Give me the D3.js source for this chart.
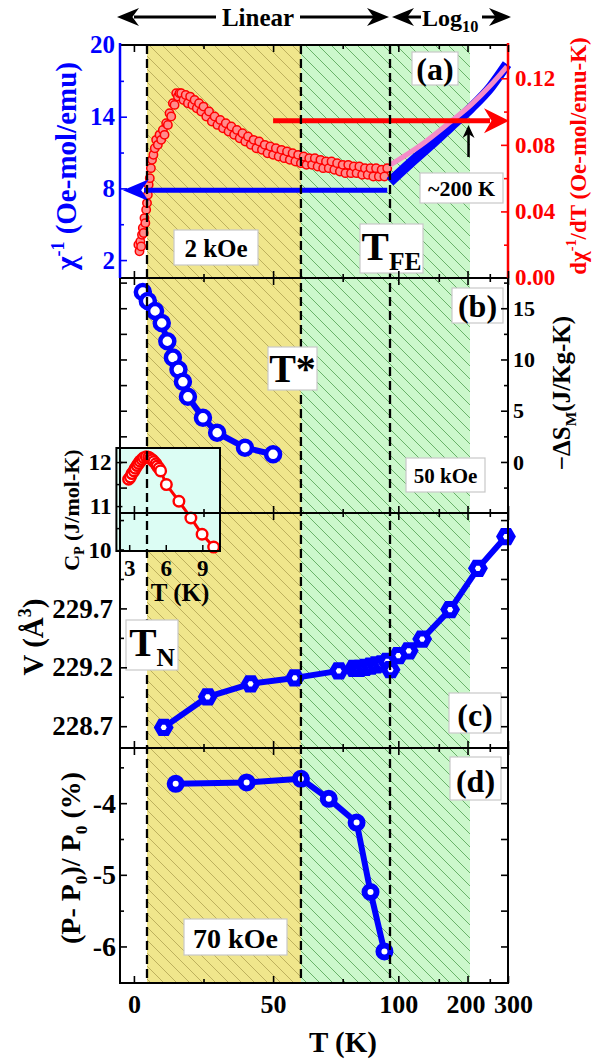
<!DOCTYPE html>
<html><head><meta charset="utf-8">
<script src="https://cdn.jsdelivr.net/npm/d3@7"></script>
<style>body{margin:0;background:#fff}svg text{font-family:"Liberation Serif","Times New Roman",serif;font-weight:bold}</style>
</head><body><svg id="c" width="610" height="1061"></svg>
<script>
// ---------- data ----------
const TN = 4.7, Tstar = 60, TFE = 92, Tend = 205;
// panel (a) dχ^-1/dT (right axis)
const chiDT = [1.6,2.0,2.3,2.6,2.9,3.2,3.5,3.8,4.1,4.4,4.7,5.0,5.3,5.7,6.1,6.5,7.0,7.5,8.0,8.6,9.2,9.8,10.4,11.0,11.6,12.2,12.8,13.4,14.0,14.6,15.2,15.8,16.4,17.0,17.8,18.6,19.4,20.2,21.0,21.8,22.6,23.4,24.2,25,26,27,28,29,30,31,32,33,34,35,36,37,38,39,40,41,42,43,44,45,46,47,48,49,50,51,52,53,54,55,56,57,58,59,60,61,62,63,64,65,66,67,68,69,70,71,72,73,74,75,76,77,78,79,80,81,82,83,84,85,86,87,88,89,90,91];
const chiDV = [0.020,0.016,0.022,0.019,0.026,0.030,0.027,0.036,0.033,0.041,0.045,0.050,0.056,0.060,0.066,0.071,0.074,0.078,0.083,0.080,0.086,0.083,0.089,0.086,0.093,0.092,0.099,0.097,0.105,0.104,0.111,0.109,0.111,
  0.111,0.107,0.110,0.105,0.109,0.104,0.107,0.102,0.105,0.100,0.103,0.097,0.100,0.094,0.097,0.092,0.095,0.090,0.093,0.088,0.091,0.086,0.089,0.084,0.087,0.082,0.085,0.080,0.083,0.078,0.082,0.077,0.080,0.075,0.079,0.074,0.078,0.073,0.077,0.072,0.076,0.071,0.075,0.070,0.074,0.069,0.073,0.068,0.072,0.068,0.072,0.067,0.071,0.066,0.070,0.066,0.070,0.065,0.069,0.064,0.068,0.063,0.068,0.063,0.067,0.063,0.067,0.062,0.066,0.062,0.066,0.061,0.066,0.061,0.065,0.061,0.066];
// panel (a) χ^-1 (left axis) and its fit
const chiInvT = [92,112.6,137.8,168.7,206.4,252.6,297];
const chiInvV = [8.55,10.1,11.6,13.16,14.7,16.5,18.4];
const chiFitT = [92,124.9,168.7,206.4,252.6,297];
const chiFitV = [9.95,11.6,13.58,14.97,16.65,18.2];
// panel (b) −ΔS_M
const dsT = [3.2,5,7.6,10,12,14,16,17.6,19.4,24.8,29.9,39.9,50];
const dsV = [16.58,15.7,14.73,13.56,11.78,10.19,9.02,7.82,6.36,4.31,2.85,1.39,0.75];
// panel (c) V
const volT = [10.7,26.5,41.9,57.8,73.6,79,81,83,85,87,89,91,92.5,100,111,127,168,222,294];
const volV = [228.69,228.95,229.06,229.11,229.17,229.19,229.19,229.2,229.21,229.22,229.23,229.25,229.18,229.3,229.34,229.44,229.69,230.04,230.31];
// panel (d) (P-P0)/P0
const polT = [15,40.5,60,70,80,85,90];
const polV = [-3.73,-3.71,-3.66,-3.94,-4.27,-5.24,-6.07];
// inset Cp
const cpT = [2.95,3.1,3.23,3.4,3.5,3.65,3.78,3.9,4.06,4.2,4.4,4.6,4.75,4.9,5.03,5.2,5.3,5.45,5.58,6.05,7.08,8.06,8.98,9.93];
const cpV = [11.61,11.66,11.74,11.8,11.86,11.92,11.97,12.02,12.06,12.1,12.12,12.11,12.08,12.05,12.01,11.96,11.91,11.86,11.8,11.49,11.11,10.73,10.36,10.07];
// ticks
const xLinTicks = [0,25,50,75], xLogTicks = [100,150,200,250,300], xLabels = [0,50,100,200,300];

// ---------- layout ----------
const L = 120, R = 508;
const PA = [45,278], PB = [278,513], PC = [513,748], PD = [748,983];
const BLUE = "#0000ff", RED = "#ff0000";
const FONT = '"Liberation Serif","Times New Roman",serif';

const xLin = d3.scaleLinear().domain([-5, TFE]).range([L, 390]);
const xLog = d3.scaleLog().domain([TFE, 300]).range([390, R]);
const x = t => t <= TFE ? xLin(t) : xLog(t);
const yA1 = d3.scaleLinear().domain([0.5, 20]).range(PA.slice().reverse());
const yA2 = d3.scaleLinear().domain([0, 0.14]).range(PA.slice().reverse());
const yB = d3.scaleLinear().domain([-4.98, 17.95]).range(PB.slice().reverse());
const yC = d3.scaleLinear().domain([228.515, 230.51]).range(PC.slice().reverse());
const yD = d3.scaleLinear().domain([-6.51, -3.23]).range(PD.slice().reverse());
const xI = d3.scaleLinear().domain([1.95, 10.45]).range([116.4, 220]);
const yI = d3.scaleLinear().domain([9.98, 12.32]).range([551, 448]);

const svg = d3.select("#c");
const defs = svg.append("defs");
function hatch(id, bg, fg){
  const p = defs.append("pattern").attr("id",id).attr("patternUnits","userSpaceOnUse").attr("width",13).attr("height",13);
  p.append("rect").attr("width",13).attr("height",13).attr("fill",bg);
  p.append("path").attr("d","M0,0L13,13M-1,12L1,14M12,-1L14,1").attr("stroke",fg).attr("stroke-width",0.8);
}
hatch("hy","#f0e68c","#b0a250");
hatch("hg","#ccf8cc","#4f9f4f");

svg.append("rect").attr("x",x(TN)).attr("y",PA[0]).attr("width",x(Tstar)-x(TN)).attr("height",PD[1]-PA[0]).attr("fill","url(#hy)");
svg.append("rect").attr("x",x(Tstar)).attr("y",PA[0]).attr("width",x(Tend)-x(Tstar)).attr("height",PD[1]-PA[0]).attr("fill","url(#hg)");

function rich(parent, parts, o){
  const t = parent.append("text").attr("font-size",o.size).attr("fill",o.fill||"#000")
    .attr("text-anchor",o.anchor||"middle").style("white-space","pre");
  if (o.rot) t.attr("transform",`translate(${o.x},${o.y}) rotate(-90)`); else t.attr("x",o.x).attr("y",o.y);
  const base = o.rot ? o.size*0.35 : 0;
  let cur = 0;
  parts.forEach(p => {
    const s = typeof p === "string" ? {t:p} : p;
    const fs = (s.sub||s.sup) ? o.size*(o.subScale||0.62) : o.size;
    const target = base + (s.sup ? -o.size*0.42 : s.sub ? o.size*0.24 : 0);
    t.append("tspan").attr("font-size",fs).attr("dy",target-cur).text(s.t);
    cur = target;
  });
  return t;
}
function arrowHead(g, tx, ty, angle, len, half, color){
  g.append("path").attr("d",`M0,0L${-len},${-half}L${-len*0.7},0L${-len},${half}Z`)
    .attr("transform",`translate(${tx},${ty}) rotate(${angle})`).attr("fill",color);
}

// ---------- panel (a) ----------
const gA = svg.append("g");
gA.append("g").selectAll("circle").data(d3.zip(chiDT, chiDV)).join("circle")
  .attr("cx",d=>x(d[0])).attr("cy",d=>yA2(d[1])).attr("r",4.2)
  .attr("fill","#ff8c8c").attr("stroke",RED).attr("stroke-width",1.5);
const lineA1 = d3.line().x(d=>x(d[0])).y(d=>yA1(d[1])).curve(d3.curveMonotoneX);
gA.append("path").attr("d",lineA1(d3.zip(chiInvT,chiInvV))).attr("fill","none").attr("stroke",BLUE).attr("stroke-width",10);
gA.append("path").attr("d",lineA1(d3.zip(chiFitT,chiFitV))).attr("fill","none").attr("stroke","#f48cc8").attr("stroke-width",5);
// blue arrow to left axis
const yBlueArr = yA1(7.85);
gA.append("line").attr("x1",x(91)).attr("x2",L+24).attr("y1",yBlueArr).attr("y2",yBlueArr).attr("stroke",BLUE).attr("stroke-width",5);
arrowHead(gA, L+3, yBlueArr, 180, 26, 11, BLUE);
// red arrow to right axis
const yRedArr = yA2(0.0945);
gA.append("line").attr("x1",x(50)).attr("x2",R-18).attr("y1",yRedArr).attr("y2",yRedArr).attr("stroke",RED).attr("stroke-width",5);
arrowHead(gA, R+1, yRedArr, 0, 25, 12.5, RED);
// black arrow at ~200 K
gA.append("line").attr("x1",x(200)+1).attr("x2",x(200)+1).attr("y1",157).attr("y2",132).attr("stroke","#000").attr("stroke-width",2.5);
arrowHead(gA, x(200)+1, 125, -90, 13, 6, "#000");

// ---------- panel (b) ----------
const gB = svg.append("g");
const lineB = d3.line().x(d=>x(d[0])).y(d=>yB(d[1]));
gB.append("path").attr("d",lineB(d3.zip(dsT,dsV))).attr("fill","none").attr("stroke",BLUE).attr("stroke-width",6);
gB.selectAll("circle").data(d3.zip(dsT,dsV)).join("circle").attr("cx",d=>x(d[0])).attr("cy",d=>yB(d[1]))
  .attr("r",7).attr("fill","#fff").attr("stroke",BLUE).attr("stroke-width",4.5);

// ---------- panel (c) ----------
const gC = svg.append("g");
const lineC = d3.line().x(d=>x(d[0])).y(d=>yC(d[1]));
gC.append("path").attr("d",lineC(d3.zip(volT,volV))).attr("fill","none").attr("stroke",BLUE).attr("stroke-width",6).attr("stroke-linejoin","round");
const hex = r => d3.range(6).map(i=>[r*Math.cos(i*Math.PI/3), r*Math.sin(i*Math.PI/3)]).map((p,i)=>(i?"L":"M")+p[0].toFixed(2)+","+p[1].toFixed(2)).join("")+"Z";
gC.selectAll("path.m").data(d3.zip(volT,volV)).join("path").attr("class","m").attr("d",hex(6.5))
  .attr("transform",d=>`translate(${x(d[0])},${yC(d[1])})`).attr("fill","#fff").attr("stroke",BLUE).attr("stroke-width",6).attr("stroke-linejoin","miter");

// ---------- panel (d) ----------
const gD = svg.append("g");
const lineD = d3.line().x(d=>x(d[0])).y(d=>yD(d[1]));
gD.append("path").attr("d",lineD(d3.zip(polT,polV))).attr("fill","none").attr("stroke",BLUE).attr("stroke-width",6).attr("stroke-linejoin","round");
gD.selectAll("circle").data(d3.zip(polT,polV)).join("circle").attr("cx",d=>x(d[0])).attr("cy",d=>yD(d[1]))
  .attr("r",6).attr("fill","#fff").attr("stroke",BLUE).attr("stroke-width",6);

// ---------- inset ----------
const gI = svg.append("g");
gI.append("rect").attr("x",116.4).attr("y",448).attr("width",220-116.4).attr("height",103).attr("fill","#dcfdf4");
const gIc = gI.append("g");
gIc.append("path").attr("d",d3.line().x(d=>xI(d[0])).y(d=>yI(d[1]))(d3.zip(cpT,cpV))).attr("fill","none").attr("stroke",RED).attr("stroke-width",3);
gIc.selectAll("circle").data(d3.zip(cpT,cpV)).join("circle").attr("cx",d=>xI(d[0])).attr("cy",d=>yI(d[1]))
  .attr("r",5.3).attr("fill","#fff").attr("stroke",RED).attr("stroke-width",2.4);
{
  const ax = gI.append("g").attr("transform","translate(116.4,0)")
    .call(d3.axisLeft(yI).tickValues([10,10.5,11,11.5,12]).tickSize(-5).tickPadding(5).tickFormat(d=>Number.isInteger(d)?d:""));
  ax.select(".domain").remove();
  ax.selectAll(".tick line").attr("stroke","#000").attr("stroke-width",1.5).attr("x2",d=>Number.isInteger(d)?6:3);
  ax.selectAll("text").attr("font-size",23).attr("font-family",FONT).attr("font-weight","bold").attr("fill","#000");
  const bx = gI.append("g").attr("transform","translate(0,551)")
    .call(d3.axisBottom(xI).tickValues([3,6,9]).tickSize(-6).tickPadding(9).tickFormat(d=>d));
  bx.select(".domain").remove();
  bx.selectAll(".tick line").attr("stroke","#000").attr("stroke-width",1.5);
  bx.selectAll("text").attr("font-size",23).attr("font-family",FONT).attr("font-weight","bold").attr("fill","#000");
}
gI.append("rect").attr("x",116.4).attr("y",448).attr("width",220-116.4).attr("height",103).attr("fill","none").attr("stroke","#000").attr("stroke-width",2);
rich(svg, ["T (K)"], {x:180, y:601, size:25});

// ---------- dashed lines ----------
[TN, Tstar, TFE].forEach(t => {
  svg.append("line").attr("x1",x(t)).attr("x2",x(t)).attr("y1",PA[0]).attr("y2",PD[1])
    .attr("stroke","#000").attr("stroke-width",2.3).attr("stroke-dasharray","9,5");
});

// ---------- label boxes ----------
function box(x0,y0,x1,y1){
  svg.append("rect").attr("x",x0).attr("y",y0).attr("width",x1-x0).attr("height",y1-y0)
    .attr("fill","#fff").attr("stroke","#c8c8c8").attr("stroke-width",1.2);
}
box(412,52,458,85);   rich(svg,["(a)"],{x:435,y:80,size:32});
box(420,173,503,203); rich(svg,["~200 K"],{x:461.5,y:196,size:22});
box(174,230,258,265); rich(svg,["2 kOe"],{x:216,y:257,size:25});
box(360,224,423,273); rich(svg,["T",{t:"FE",sub:true}],{x:391.5,y:260,size:41});
box(452,288,503,323); rich(svg,["(b)"],{x:477.5,y:317,size:32});
box(268,347,317,390); rich(svg,["T*"],{x:292.5,y:382,size:40});
box(406,458,485,492); rich(svg,["50 kOe"],{x:445.5,y:483,size:21});
box(126,620,178,670); rich(svg,["T",{t:"N",sub:true}],{x:152,y:656,size:41});
box(449,693,501,733); rich(svg,["(c)"],{x:475,y:726,size:32});
box(450,757,501,800); rich(svg,["(d)"],{x:475.5,y:792,size:32});
box(184,919,287,955); rich(svg,["70 kOe"],{x:235.5,y:948,size:28});

// ---------- frames ----------
[PA[0],PA[1],PB[1],PC[1],PD[1]].forEach(y=>{
  svg.append("line").attr("x1",L).attr("x2",R).attr("y1",y).attr("y2",y).attr("stroke","#000").attr("stroke-width",2);
});
svg.append("line").attr("x1",L).attr("x2",L).attr("y1",PA[0]-2).attr("y2",PA[1]).attr("stroke",BLUE).attr("stroke-width",2.5);
svg.append("line").attr("x1",R).attr("x2",R).attr("y1",PA[0]-2).attr("y2",PA[1]).attr("stroke",RED).attr("stroke-width",2.5);
svg.append("line").attr("x1",L).attr("x2",L).attr("y1",PB[0]).attr("y2",PD[1]+1).attr("stroke","#000").attr("stroke-width",2);
svg.append("line").attr("x1",R).attr("x2",R).attr("y1",PB[0]).attr("y2",PD[1]+1).attr("stroke","#000").attr("stroke-width",2);

// ---------- axes ----------
function styleText(g,size,color){
  g.selectAll("text").attr("font-size",size).attr("font-family",FONT).attr("font-weight","bold").attr("fill",color);
}
function yAxis(scale, xPos, side, vals, labeled, fmt, color, size, pad){
  const ax = (side==="left"?d3.axisLeft(scale):d3.axisRight(scale)).tickValues(vals).tickSize(-6).tickPadding(pad)
    .tickFormat(d => labeled.includes(d) ? fmt(d) : "");
  const g = svg.append("g").attr("transform",`translate(${xPos},0)`).call(ax);
  g.select(".domain").remove();
  const sgn = side==="left" ? 1 : -1;
  g.selectAll(".tick line").attr("stroke",color).attr("stroke-width",1.6).attr("x2",d=>sgn*(labeled.includes(d)||!labeled.length?7:4));
  styleText(g,size,color);
}
const f1 = d3.format(".1f"), f2 = d3.format(".2f"), fi = d => String(d);
yAxis(yA1, L, "left", [2,5,8,11,14,17], [2,8,14,20], fi, BLUE, 25, 5);
svg.append("text").attr("x",L-5).attr("y",yA1(20)).attr("dy","0.32em").attr("text-anchor","end").attr("font-size",25).attr("fill",BLUE).text("20");
yAxis(yA2, R, "right", [0.02,0.04,0.06,0.08,0.10,0.12], [0.04,0.08,0.12], f2, RED, 23, 7);
svg.append("text").attr("x",R+7).attr("y",yA2(0)).attr("dy","0.32em").attr("font-size",23).attr("fill",RED).text("0.00");
yAxis(yB, R, "right", [-2.5,0,2.5,5,7.5,10,12.5,15,17.5], [0,5,10,15], fi, "#000", 22, 5);
yAxis(yB, L, "left", [-2.5,0,2.5,5,7.5,10,12.5,15,17.5], [], fi, "#000", 22, 5);
yAxis(yC, L, "left", [228.7,228.95,229.2,229.45,229.7,229.95,230.2,230.45], [228.7,229.2,229.7], f1, "#000", 27, 7);
yAxis(yC, R, "right", [228.7,228.95,229.2,229.45,229.7,229.95,230.2,230.45], [], f1, "#000", 27, 7);
yAxis(yD, L, "left", [-6.5,-6,-5.5,-5,-4.5,-4,-3.5], [-6,-5,-4], fi, "#000", 28, 4);
yAxis(yD, R, "right", [-6.5,-6,-5.5,-5,-4.5,-4,-3.5], [], fi, "#000", 28, 4);

function xAxis(yPos, dir, withLabels){
  [[xLin,xLinTicks],[xLog,xLogTicks]].forEach(([sc,vals])=>{
    const ax = (dir==="bottom"?d3.axisBottom(sc):d3.axisTop(sc)).tickValues(vals).tickSize(-6).tickPadding(12)
      .tickFormat(d => withLabels && xLabels.includes(d) ? d : "");
    const g = svg.append("g").attr("transform",`translate(0,${yPos})`).call(ax);
    g.select(".domain").remove();
    const sgn = dir==="bottom" ? -1 : 1;
    g.selectAll(".tick line").attr("stroke","#000").attr("stroke-width",1.6).attr("y2",d=>sgn*(xLabels.includes(d)?7:4));
    styleText(g,26,"#000");
    g.selectAll(".tick text").attr("dx", d => d===300 ? 5 : d===200 ? -2 : 0);
  });
}
xAxis(PA[0],"top",false); xAxis(PA[1],"bottom",false); xAxis(PB[0],"top",false);
xAxis(PB[1],"bottom",false); xAxis(PC[0],"top",false); xAxis(PC[1],"bottom",false);
xAxis(PD[0],"top",false); xAxis(PD[1],"bottom",true);

// ---------- titles ----------
rich(svg,["χ",{t:"-1",sup:true}," (Oe-mol/emu)"],{x:66,y:166,size:29,fill:BLUE,rot:true});
rich(svg,["dχ",{t:"-1",sup:true},"/dT (Oe-mol/emu-K)"],{x:578,y:156,size:23,fill:RED,rot:true});
rich(svg,["−ΔS",{t:"M",sub:true},"(J/Kg-K)"],{x:561,y:393,size:25,rot:true});
rich(svg,["C",{t:"P",sub:true}," (J/mol-K)"],{x:71,y:510,size:22,rot:true});
rich(svg,["V (Å",{t:"3",sup:true},")"],{x:33,y:637,size:29,rot:true});
rich(svg,["(P- P",{t:"0",sub:true},")/ P",{t:"0",sub:true}," (%)"],{x:70,y:858,size:28,rot:true});
rich(svg,["T (K)"],{x:343,y:1052,size:29});

// ---------- header ----------
const gH = svg.append("g");
const yH = 17;
gH.append("line").attr("x1",L+14).attr("x2",216).attr("y1",yH).attr("y2",yH).attr("stroke","#000").attr("stroke-width",3);
gH.append("line").attr("x1",300).attr("x2",x(TFE)-14).attr("y1",yH).attr("y2",yH).attr("stroke","#000").attr("stroke-width",3);
arrowHead(gH, L-3, yH, 180, 22, 9, "#000");
arrowHead(gH, x(TFE)-1, yH, 0, 22, 9, "#000");
rich(gH,["Linear"],{x:258,y:26,size:25});
arrowHead(gH, x(TFE)+2, yH, 180, 22, 9, "#000");
gH.append("line").attr("x1",x(TFE)+14).attr("x2",421).attr("y1",yH).attr("y2",yH).attr("stroke","#000").attr("stroke-width",3);
rich(gH,["Log",{t:"10",sub:true}],{x:422,y:26,size:24,anchor:"start",subScale:0.68});
gH.append("line").attr("x1",482).attr("x2",R-10).attr("y1",yH).attr("y2",yH).attr("stroke","#000").attr("stroke-width",3);
arrowHead(gH, R+3, yH, 0, 22, 9, "#000");
</script></body></html>
